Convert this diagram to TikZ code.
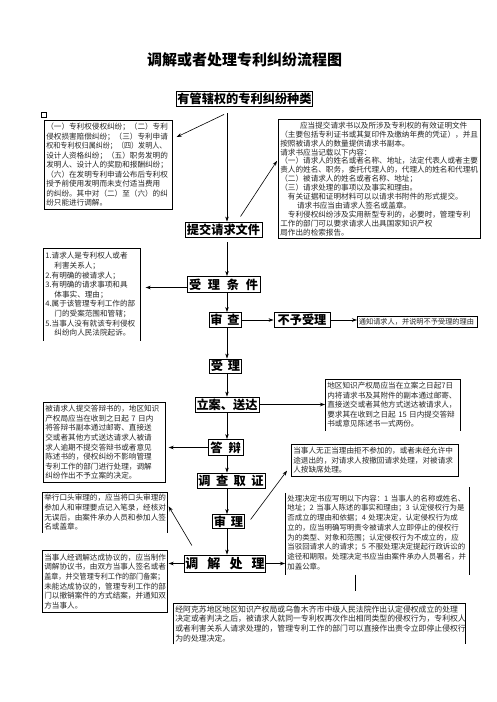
\documentclass[tikz,border=0pt]{standalone}
\usepackage{fontspec}
\setmainfont{Noto Sans CJK SC}
\usepackage{graphicx}
\usepackage{tikz}
\usetikzlibrary{arrows.meta,calc}
\newcommand\headfont[1]{\bfseries\fontsize{#1}{#1}\selectfont}
\newcommand\notefont[2]{\fontsize{#1}{#2}\selectfont}
\newcommand\squeeze[1]{\scalebox{0.93}[1]{#1}}
\tikzset{
  headbox/.style={draw, line width=0.9pt, inner sep=1pt, minimum height=15pt, font=\headfont{12.2}},
  notebox/.style={draw, line width=0.7pt, inner sep=2pt, align=left, anchor=north west, text=black!85, font=\notefont{7.6}{9.6}},
  openbox/.style={notebox, draw=none},
  edgeline/.style={line width=0.7pt},
  thinarrow/.style={-{Stealth[length=5pt,width=3.5pt]}, line width=0.6pt},
}
\begin{document}
\begin{tikzpicture}[x=1pt, y=-1pt]
  \useasboundingbox (0,0) rectangle (496,702);

  % Title
  \node[font=\headfont{15}] (title) at (244.5,60) {调解或者处理专利纠纷流程图};
  \node[headbox] (kinds) at (244.5,98.5) {有管辖权的专利纠纷种类};
  \node[draw, line width=0.6pt, inner sep=0pt, minimum size=4.5pt] (mark) at (44,115) {};

  % Main steps
  \coordinate (spine) at (227,0);
  \node[headbox, minimum width=77pt] (submit) at (223.5,229.5) {提交请求文件};
  \node[headbox, minimum width=73pt, minimum height=16pt] (cond) at (223.5,284.5) {受\hspace{0.55em}理\hspace{0.55em}条\hspace{0.55em}件};
  \node[headbox, minimum width=32pt] (check) at (225,320) {审\hspace{0.4em}查};
  \node[headbox, minimum width=56pt] (reject) at (302,320) {不予受理};
  \node[headbox, minimum width=31pt, minimum height=14pt] (accept) at (225.5,366) {受\hspace{0.4em}理};
  \node[headbox, minimum width=64pt] (file) at (227,404.5) {立案、送达};
  \node[headbox, minimum width=35pt, minimum height=16pt] (reply) at (225.5,447.5) {答\hspace{0.5em}辩};
  \node[headbox, minimum width=68pt] (invest) at (231,480.5) {调\hspace{0.45em}查\hspace{0.45em}取\hspace{0.45em}证};
  \node[headbox, minimum width=31pt, minimum height=14pt] (hear) at (228.5,521.5) {审\hspace{0.4em}理};
  \node[headbox, minimum width=80pt, minimum height=17pt, font=\headfont{13}] (settle) at (225,563.5) {调\hspace{0.7em}解\hspace{0.7em}处\hspace{0.7em}理};

  % Notes on the left
  \node[notebox, text width=124pt, minimum height=89pt, font=\notefont{7.6}{9.5}] (types) at (44,120) {（一）专利权侵权纠纷；（二）专利\\侵权损害赔偿纠纷；（三）专利申请\\\squeeze{权和专利权归属纠纷；（四）发明人、}\\设计人资格纠纷；（五）职务发明的\\发明人、设计人的奖励和报酬纠纷；\\（六）在发明专利申请公布后专利权\\授予前使用发明而未支付适当费用\\的纠纷。其中对（二）至（六）的纠\\纷只能进行调解。};
  \node[openbox, text width=93pt, minimum height=92pt] (conds) at (43,248) {1.请求人是专利权人或者\\\hspace*{1.2em}利害关系人；\\2.有明确的被请求人；\\3.有明确的请求事项和具\\\hspace*{1.2em}体事实、理由；\\4.属于该管理专利工作的部\\\hspace*{1.2em}门的受案范围和管辖；\\5.当事人没有就该专利侵权\\\hspace*{1.2em}纠纷向人民法院起诉。};
  \node[notebox, text width=118pt, minimum height=80pt] (replynote) at (43,402) {被请求人提交答辩书的，地区知识\\产权局应当在收到之日起 7 日内\\将答辩书副本通过邮寄、直接送\\交或者其他方式送达请求人被请\\求人逾期不提交答辩书或者意见\\陈述书的，侵权纠纷不影响管理\\专利工作的部门进行处理，调解\\纠纷作出不予立案的决定。};
  \node[openbox, text width=121pt, minimum height=40pt] (oral) at (42,492) {举行口头审理的，应当将口头审理的\\参加人和审理要点记入笔录，经核对\\无误后，由案件承办人员和参加人签\\名或盖章。};
  \node[notebox, text width=121pt, minimum height=62pt] (agree) at (42,550) {当事人经调解达成协议的，应当制作\\调解协议书，由双方当事人签名或者\\\squeeze{盖章，并交管理专利工作的部门备案；}\\未能达成协议的，管理专利工作的部\\门以撤销案件的方式结案，并通知双\\方当事人。};

  % Notes on the right
  \node[notebox, text width=198pt, minimum height=119pt, font=\notefont{7.6}{8.9}] (reqdoc) at (278,119) {\hspace*{2.6em}应当提交请求书以及所涉及专利权的有效证明文件\\（主要包括专利证书或其复印件及缴纳年费的凭证），并且\\按照被请求人的数量提供请求书副本。\\请求书应当记载以下内容：\\（一）请求人的姓名或者名称、地址，法定代表人或者主要\\责人的姓名、职务，委托代理人的，代理人的姓名和代理机\\（二）被请求人的姓名或者名称、地址；\\（三）请求处理的事项以及事实和理由。\\\hspace*{1em}有关证据和证明材料可以以请求书附件的形式提交。\\\hspace*{2.2em}请求书应当由请求人签名或盖章。\\\hspace*{1em}专利侵权纠纷涉及实用新型专利的，必要时，管理专利\\工作的部门可以要求请求人出具国家知识产权\\局作出的检索报告。};
  \node[notebox, text width=117pt, minimum height=11pt, inner sep=1.5pt, font=\notefont{7.2}{7.2}] (notify) at (357,316) {通知请求人，并说明不予受理的理由};
  \node[openbox, text width=131pt, minimum height=51pt] (filenote) at (325,379) {地区知识产权局应当在立案之日起7日\\内将请求书及其附件的副本通过邮寄、\\直接送交或者其他方式送达被请求人，\\要求其在收到之日起 15 日内提交答辩\\书或意见陈述书一式两份。};
  \node[notebox, text width=163pt, minimum height=32pt] (absent) at (291,444) {当事人无正当理由拒不参加的，或者未经允许中\\途退出的，对请求人按撤回请求处理，对被请求\\人按缺席处理。};
  \node[openbox, text width=180pt, minimum height=84pt, font=\notefont{7.45}{9.7}] (decide) at (285,490) {处理决定书应写明以下内容：1 当事人的名称或姓名、\\地址；2 当事人陈述的事实和理由；3 认定侵权行为是\\否成立的理由和依据；4 处理决定，认定侵权行为成\\立的，应当明确写明责令被请求人立即停止的侵权行\\为的类型、对象和范围；认定侵权行为不成立的，应\\当驳回请求人的请求；5 不服处理决定提起行政诉讼的\\途径和期限。处理决定书应当由案件承办人员署名，并\\加盖公章。};
  \node[openbox, text width=288pt, minimum height=40pt, font=\notefont{7.85}{9.8}] (final) at (173,603) {经阿克苏地区地区知识产权局或乌鲁木齐市中级人民法院作出认定侵权成立的处理\\决定或者判决之后，被请求人就同一专利权再次作出相同类型的侵权行为，专利权人\\或者利害关系人请求处理的，管理专利工作的部门可以直接作出责令立即停止侵权行\\为的处理决定。};

  % Open box edges
  \draw[edgeline] (conds.south west) -- (conds.north west) -- (conds.north east) -- (conds.south east);
  \draw[edgeline] (oral.south west) -- (oral.north west) -- (oral.north east) -- (oral.south east);
  \draw[edgeline] (filenote.south west) -- (filenote.north west) -- (filenote.north east) -- (filenote.south east);
  \draw[edgeline] (final.south west) -- (final.north west) -- (final.north east) -- (final.south east);
  \draw[edgeline] ([yshift=-3pt]decide.north west) -- (decide.south west);
  \draw[edgeline] ([yshift=3pt]decide.north east) -- (decide.south east);
  \coordinate (tail) at ($(decide.south west)+(70,16)$);
  \draw[edgeline] ($(decide.south west)+(70,0)$) -- (tail);

  % Connectors
  \draw[thinarrow, shorten <=7pt] (kinds.south -| spine) -- (submit.north -| spine);
  \draw[thinarrow] ($(kinds.south -| spine)+(-3,8)$) -- ($(types.north east)+(4,17)$);
  \draw[thinarrow] ($(submit.north)+(17,-5)$) -- ($(reqdoc.west)+(-1,-18)$);
  \draw[thinarrow, shorten <=5pt] (submit.south -| spine) -- (cond.north -| spine);
  \draw[thinarrow, shorten >=5pt] ([yshift=-3pt]cond.west) -- ([yshift=-3pt]cond.west -| conds.east);
  \draw[thinarrow] (cond.south -| spine) -- (check.north -| spine);
  \draw[thinarrow] (check.east) -- (reject.west);
  \draw[thinarrow] (reject.east) -- (reject.east -| notify.west);
  \draw[thinarrow] (check.south -| spine) -- (accept.north -| spine);
  \draw[thinarrow] (accept.south -| spine) -- (file.north -| spine);
  \draw[thinarrow] (file.east) -- (file.east -| filenote.west);
  \draw[thinarrow] (file.south -| spine) -- (reply.north -| spine);
  \draw[thinarrow, shorten >=3pt] (reply.west) -- (reply.west -| replynote.east);
  \draw[thinarrow] (reply.south -| spine) -- (invest.north -| spine);
  \draw[thinarrow] (invest.south -| spine) -- (hear.north -| spine);
  \draw[thinarrow] ($(hear.east)+(6,-2)$) -- ($(absent.south west)+(-4,-6)$);
  \draw[thinarrow] (hear.south -| spine) -- (settle.north -| spine);
  \draw[thinarrow] ($(settle.north west)+(8,-9)$) -- ($(oral.east)+(1,-6)$);
  \draw[thinarrow, shorten >=1pt] (settle.west) -- (settle.west -| agree.east);
  \draw[thinarrow] (settle.east) -- (settle.east -| decide.west);
\end{tikzpicture}
\end{document}
